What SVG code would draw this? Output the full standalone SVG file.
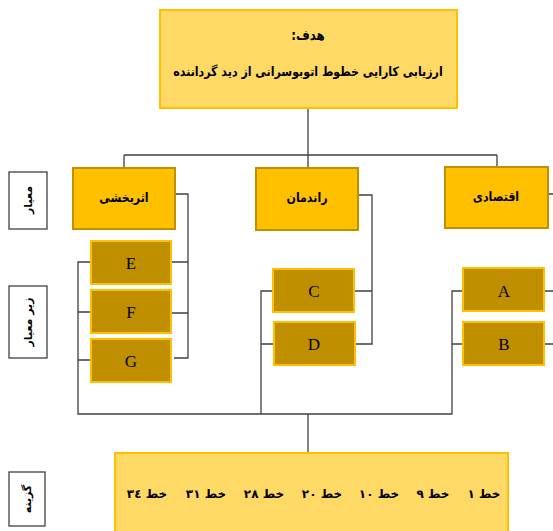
<svg xmlns="http://www.w3.org/2000/svg" width="553" height="531" viewBox="0 0 553 531">
<style>
.goal{fill:#FFD966;stroke:#FFC000;stroke-width:2}
.crit{fill:#FFC000;stroke:#BF9000;stroke-width:2}
.sub{fill:#BF8F00;stroke:#FFC000;stroke-width:2}
.lbl{fill:#fff;stroke:#404040;stroke-width:1.3}
.fa{font-family:"DejaVu Sans","Noto Sans",sans-serif;fill:#000;text-anchor:middle;direction:rtl}
.b{font-weight:bold}
.lat{font-family:"Liberation Serif","Times New Roman",serif;font-size:17px;fill:#000;text-anchor:middle}
.con{fill:none;stroke:#404040;stroke-width:1.3}
</style>
<g id="connectors" class="con">
<path d="M308,108 V155 M124,155 H497 M124,155 V168 M308,155 V168 M497,155 V167"/>
<path d="M175,194 H188 V358 H174 M171,262 H188 M171,313 H188"/>
<path d="M91,262 H78 V414 H452 V291 H463 M91,312 H78 M91,360 H78"/>
<path d="M273,291 H261 V414 M274,344 H261"/>
<path d="M308,414 V453"/>
<path d="M358,195 H372 V344 H355 M354,291 H372"/>
<path d="M548,194 H553 M544,291 H553 M544,344 H553 M463,344 H452"/>
</g>
<g id="goal">
<rect class="goal" x="160" y="10" width="297" height="98"/>
<text class="fa b" font-size="14" transform="translate(308,40) scale(0.85,1)">هدف:</text>
<text class="fa b" font-size="13" transform="translate(308,76) scale(0.85,1)">ارزیابی کارایی خطوط اتوبوسرانی از دید گرداننده</text>
</g>
<g id="c-effect">
<rect class="crit" x="73" y="168" width="102" height="61"/>
<text class="fa b" font-size="13" transform="translate(124,202) scale(0.85,1)">اثربخشی</text>
</g>
<g id="c-efficiency">
<rect class="crit" x="256" y="168" width="102" height="62"/>
<text class="fa b" font-size="13" transform="translate(307,202) scale(0.85,1)">راندمان</text>
</g>
<g id="c-economic">
<rect class="crit" x="445" y="167" width="103" height="61"/>
<text class="fa b" font-size="13" transform="translate(496,201) scale(0.85,1)">اقتصادی</text>
</g>
<g id="s-E"><rect class="sub" x="91" y="241" width="80" height="43"/><text class="lat" x="131" y="269">E</text></g>
<g id="s-F"><rect class="sub" x="91" y="290" width="80" height="43"/><text class="lat" x="131" y="318">F</text></g>
<g id="s-G"><rect class="sub" x="91" y="339" width="80" height="43"/><text class="lat" x="131" y="367">G</text></g>
<g id="s-C"><rect class="sub" x="273" y="269" width="81" height="43"/><text class="lat" x="314" y="297">C</text></g>
<g id="s-D"><rect class="sub" x="274" y="322" width="81" height="43"/><text class="lat" x="314" y="350">D</text></g>
<g id="s-A"><rect class="sub" x="463" y="268" width="81" height="43"/><text class="lat" x="504" y="297">A</text></g>
<g id="s-B"><rect class="sub" x="463" y="322" width="81" height="43"/><text class="lat" x="504" y="350">B</text></g>
<g id="alternatives">
<rect class="goal" x="115" y="453" width="393" height="82"/>
<g class="fa b" font-size="12">
<text x="484" y="498">خط ۱</text>
<text x="433" y="498">خط ۹</text>
<text x="379" y="498">خط ۱۰</text>
<text x="322" y="498">خط ۲۰</text>
<text x="264" y="498">خط ۲۸</text>
<text x="206" y="498">خط ۳۱</text>
<text x="147" y="498">خط ۳٤</text>
</g>
</g>
<g id="label-criteria">
<rect class="lbl" x="9" y="172" width="38" height="57"/>
<text class="fa b" font-size="11" transform="translate(32,200) rotate(-90)">معیار</text>
</g>
<g id="label-subcriteria">
<rect class="lbl" x="9" y="286" width="38" height="72"/>
<text class="fa b" font-size="11" transform="translate(32,322) rotate(-90)">زیر معیار</text>
</g>
<g id="label-alternatives">
<rect class="lbl" x="9" y="472" width="36" height="54"/>
<text class="fa b" font-size="11" transform="translate(31,499) rotate(-90)">گزینه</text>
</g>
</svg>
